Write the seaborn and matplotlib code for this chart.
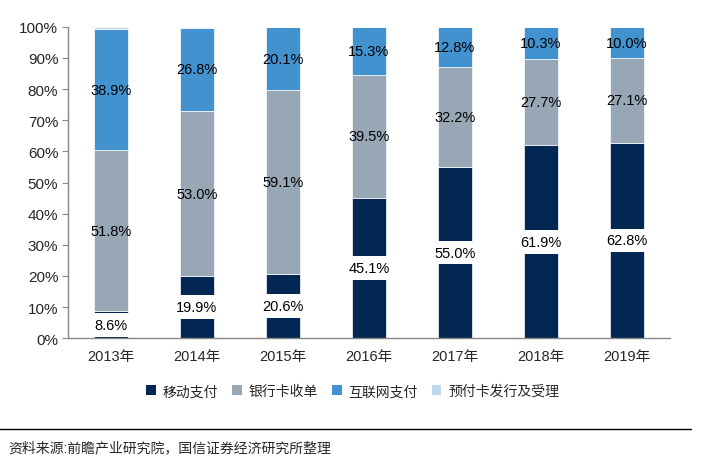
import numpy as np
import pandas as pd
import matplotlib
matplotlib.use("Agg")
import matplotlib.pyplot as plt
import seaborn as sns
from matplotlib.patches import Patch
from matplotlib.lines import Line2D

# Data
years = ["2013年", "2014年", "2015年", "2016年", "2017年", "2018年", "2019年"]
mobile = [8.6, 19.9, 20.6, 45.1, 55.0, 61.9, 62.8]
bank_card = [51.8, 53.0, 59.1, 39.5, 32.2, 27.7, 27.1]
internet = [38.9, 26.8, 20.1, 15.3, 12.8, 10.3, 10.0]
prepaid = [0.7, 0.3, 0.2, 0.1, 0.0, 0.1, 0.1]

series_names = ["移动支付", "银行卡收单", "互联网支付", "预付卡发行及受理"]
colors = ["#012752", "#97A7B6", "#4292CF", "#BCD7EE"]

df = pd.DataFrame({"year": years, series_names[0]: mobile, series_names[1]: bank_card,
                   series_names[2]: internet, series_names[3]: prepaid})

sns.set_style("white")
plt.rcParams["font.family"] = ["Liberation Sans", "Noto Sans CJK SC"]

fig = plt.figure(figsize=(7.24, 4.64), dpi=100)
ax = fig.add_axes([0.094, 0.269, 0.831, 0.671])

# Stacked bars
bottom = np.zeros(len(years))
for name, col in zip(series_names, colors):
    sns.barplot(x="year", y=name, data=df, color=col, bottom=bottom, width=0.4,
                saturation=1, ax=ax, linewidth=0.5, edgecolor="white")
    vals = df[name].values
    if name != series_names[3]:
        for i, v in enumerate(vals):
            y = bottom[i] + v / 2
            if name == series_names[0]:
                ax.text(i, y, f"{v:.1f}%", ha="center", va="center", fontsize=10.5,
                        color="black",
                        bbox=dict(facecolor="white", edgecolor="none", pad=3.5))
            else:
                ax.text(i, y, f"{v:.1f}%", ha="center", va="center", fontsize=10.5,
                        color="black")
    bottom = bottom + vals

ax.set_ylim(0, 100)
ax.set_xlim(-0.5, 6.5)
ax.set_yticks(np.arange(0, 101, 10))
ax.set_yticklabels([f"{t}%" for t in range(0, 101, 10)], fontsize=11)
ax.set_xticks(range(len(years)))
ax.set_xticklabels(years, fontsize=10.5)
ax.set_xticks(np.arange(-0.5, 7, 1), minor=True)
ax.tick_params(axis="x", which="major", length=0, pad=8)
ax.tick_params(axis="x", which="minor", length=4, color="#888888", direction="out")
ax.tick_params(axis="y", length=4, color="#888888", direction="out", left=True, pad=3)
ax.set_xlabel("")
ax.set_ylabel("")

for s in ["top", "right"]:
    ax.spines[s].set_visible(False)
for s in ["left", "bottom"]:
    ax.spines[s].set_color("#888888")
    ax.spines[s].set_linewidth(1)

# Legend
handles = [Patch(facecolor=c, edgecolor="none") for c in colors]
fig.legend(handles, series_names, loc="center", bbox_to_anchor=(0.487, 0.155), ncol=4,
           frameon=False, fontsize=10, handlelength=0.7, handleheight=0.7,
           handletextpad=0.5, columnspacing=1.0)

# Source line and note
fig.add_artist(Line2D([0.0, 0.955], [0.073, 0.073], color="black", linewidth=1))
fig.text(0.011, 0.035, "资料来源:前瞻产业研究院，国信证券经济研究所整理", fontsize=10,
         ha="left", va="center")

fig.savefig("out.png", dpi=100)
